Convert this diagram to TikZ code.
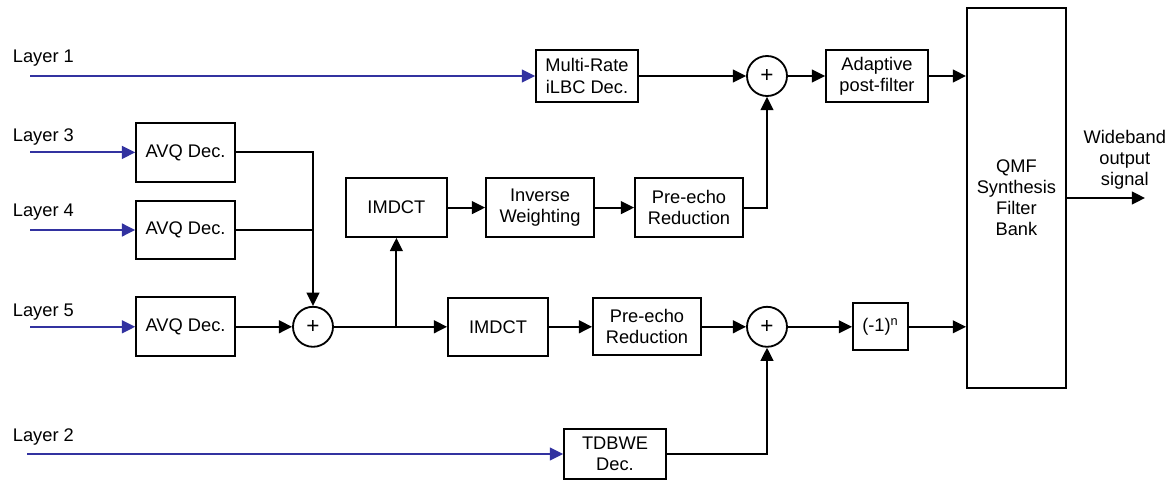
\documentclass[tikz,border=0pt]{standalone}
\usepackage{fontspec}
\setmainfont{Liberation Sans}
\usetikzlibrary{arrows.meta,positioning,calc}
\definecolor{layerblue}{RGB}{50,50,160}
\begin{document}
\begin{tikzpicture}[>={Triangle[length=0.33cm,width=0.32cm]},line width=1.3pt,font=\fontsize{13}{15}\selectfont,bx/.style={draw,rectangle,align=center,inner sep=1pt,minimum height=1.47cm},sm/.style={draw,circle,minimum size=1cm,inner sep=0pt,font=\fontsize{16}{16}\selectfont},lab/.style={anchor=west,inner sep=0pt},bl/.style={->,layerblue}]
\useasboundingbox (0,0) rectangle (29.375,12);
\node[bx,minimum width=2.55cm,minimum height=1.32cm] (MR) at (14.675,10.1) {Multi-Rate\\iLBC Dec.};
\node[sm] (S1) at (19.175,10.1) {+};
\node[bx,minimum width=2.55cm,minimum height=1.3cm] (AP) at (21.925,10.1) {Adaptive\\post-filter};
\node[bx,minimum width=2.475cm,minimum height=9.5cm] (QMF) at (25.41,7.05) {QMF\\Synthesis\\Filter\\Bank};
\node[bx,minimum width=2.475cm] (AVQ1) at (4.64,8.19) {AVQ Dec.};
\node[bx,minimum width=2.475cm] (AVQ2) at (4.64,6.25) {AVQ Dec.};
\node[bx,minimum width=2.475cm] (AVQ3) at (4.64,3.83) {AVQ Dec.};
\node[sm] (S2) at (7.825,3.83) {+};
\node[bx,minimum width=2.525cm] (IM1) at (9.91,6.81) {IMDCT};
\node[bx,minimum width=2.7cm] (IW) at (13.5,6.81) {Inverse\\Weighting};
\node[bx,minimum width=2.7cm] (PE1) at (17.225,6.81) {Pre-echo\\Reduction};
\node[bx,minimum width=2.5cm,minimum height=1.45cm] (IM2) at (12.45,3.83) {IMDCT};
\node[bx,minimum width=2.7cm,minimum height=1.43cm] (PE2) at (16.175,3.83) {Pre-echo\\Reduction};
\node[sm] (S3) at (19.175,3.83) {+};
\node[bx,minimum width=1.375cm,minimum height=1.175cm] (NEG) at (22.01,3.83) {(-1)\textsuperscript{n}};
\node[bx,minimum width=2.55cm,minimum height=1.25cm] (TD) at (15.375,0.65) {TDBWE\\Dec.};
\node[lab] (L1) at (0.3,10.55) {Layer 1};
\node[lab] (L3) at (0.3,8.57) {Layer 3};
\node[lab] (L4) at (0.3,6.7) {Layer 4};
\node[lab] (L5) at (0.3,4.2) {Layer 5};
\node[lab] (L2) at (0.3,1.07) {Layer 2};
\node[align=center] (WB) at (28.12,8.0) {Wideband\\output\\signal};
\coordinate (I1) at (0.75,10.1);
\coordinate (I3) at (0.75,8.19);
\coordinate (I4) at (0.75,6.25);
\coordinate (I5) at (0.75,3.83);
\coordinate (I2) at (0.675,0.65);
\coordinate (OUT) at (28.625,7.05);
\coordinate (BR) at (IM1.south |- S2.east);
\draw[bl] (I1)--(MR);
\draw[bl] (I3)--(AVQ1);
\draw[bl] (I4)--(AVQ2);
\draw[bl] (I5)--(AVQ3);
\draw[bl] (I2)--(TD);
\draw[->] (MR)--(S1);
\draw[->] (S1)--(AP);
\draw[->] (AP.east)--(AP.east -| QMF.west);
\draw[->] (AVQ1.east) -| (S2.north);
\draw (AVQ2.east)--(AVQ2.east -| S2.north);
\draw[->] (AVQ3)--(S2);
\draw[->] (S2)--(IM2);
\draw[->] (BR)--(IM1.south);
\draw[->] (IM1)--(IW);
\draw[->] (IW)--(PE1);
\draw[->] (PE1.east) -| (S1.south);
\draw[->] (IM2)--(PE2);
\draw[->] (PE2)--(S3);
\draw[->] (S3)--(NEG);
\draw[->] (NEG.east)--(NEG.east -| QMF.west);
\draw[->] (TD.east) -| (S3.south);
\draw[->] (QMF.east |- OUT)--(OUT);
\end{tikzpicture}
\end{document}
